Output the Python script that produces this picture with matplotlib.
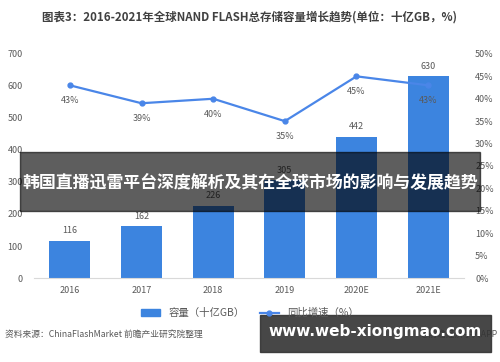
import matplotlib.pyplot as plt
from matplotlib.patches import Rectangle
from matplotlib.lines import Line2D
from matplotlib.ticker import FuncFormatter

plt.rcParams['font.family'] = ['Noto Sans CJK SC', 'DejaVu Sans']

years = ['2016', '2017', '2018', '2019', '2020E', '2021E']
capacity = [116, 162, 226, 305, 442, 630]
growth = [43, 39, 40, 35, 45, 43]

bar_color = '#3c84df'
line_color = '#4a86e8'
text_gray = '#595959'

fig = plt.figure(figsize=(5, 3.62), dpi=100)
ax = fig.add_axes([0.068, 0.232, 0.86, 0.619])
ax2 = ax.twinx()

x = range(len(years))
bars = ax.bar(x, capacity, width=0.57, color=bar_color, zorder=2)
for xi, v in zip(x, capacity):
    ax.annotate(str(v), (xi, v), xytext=(0, 4), textcoords='offset points',
                ha='center', va='bottom', fontsize=6.5, color=text_gray)

ax.set_ylim(0, 700)
ax.set_yticks(range(0, 701, 100))
ax.set_xlim(-0.5, len(years) - 0.5)
ax.set_xticks(list(x))
ax.set_xticklabels(years)

ax2.plot(x, growth, color=line_color, lw=1.6, marker='o', ms=3.5, zorder=3)
for xi, v in zip(x, growth):
    ax2.annotate(f'{v}%', (xi, v), xytext=(0, -8), textcoords='offset points',
                 ha='center', va='top', fontsize=6.5, color=text_gray)
ax2.set_ylim(0, 50)
ax2.set_yticks(range(0, 51, 5))
ax2.yaxis.set_major_formatter(FuncFormatter(lambda v, p: f'{int(v)}%'))

for a in (ax, ax2):
    for s in a.spines.values():
        s.set_visible(False)
    a.tick_params(length=0, labelsize=6.5, labelcolor=text_gray)
ax.spines['bottom'].set_visible(True)
ax.spines['bottom'].set_color('#d9d9d9')
ax.tick_params(axis='y', pad=8)
ax.tick_params(axis='x', pad=6)
ax2.tick_params(axis='y', pad=8)

fig.text(0.5, 0.953, '图表3：2016-2021年全球NAND FLASH总存储容量增长趋势(单位：十亿GB，%)',
         ha='center', va='center', fontsize=8.3, fontweight='bold', color='#404040')

handles = [Rectangle((0, 0), 1, 1, color=bar_color),
           Line2D([0], [0], color=line_color, lw=1.6, marker='o', ms=3.5)]
fig.legend(handles, ['容量（十亿GB）', '同比增速（%）'], loc='center',
           bbox_to_anchor=(0.5, 0.135), ncol=2, frameon=False, fontsize=7.5,
           labelcolor=text_gray, handlelength=1.8, columnspacing=1.5)

fig.text(0.01, 0.075, '资料来源：ChinaFlashMarket 前瞻产业研究院整理',
         ha='left', va='center', fontsize=6.3, color=text_gray)
fig.text(0.995, 0.075, '@前瞻经济学人APP', ha='right', va='center',
         fontsize=6.3, color=text_gray)

# overlay banners
fig.patches.append(Rectangle((0.04, 0.417), 0.92, 0.163, transform=fig.transFigure,
                             color='black', alpha=0.63, zorder=5))
fig.text(0.5, 0.494, '韩国直播迅雷平台深度解析及其在全球市场的影响与发展趋势',
         ha='center', va='center', fontsize=12.2, fontweight='bold', color='white', zorder=6)
fig.patches.append(Rectangle((0.52, 0.028), 0.462, 0.102, transform=fig.transFigure,
                             color='#333333', alpha=0.9, zorder=5))
fig.text(0.75, 0.083, 'www.web-xiongmao.com', ha='center', va='center',
         fontsize=11, fontweight='bold', color='white', zorder=6,
         family=['DejaVu Sans'])

fig.savefig('out.png', dpi=100)
